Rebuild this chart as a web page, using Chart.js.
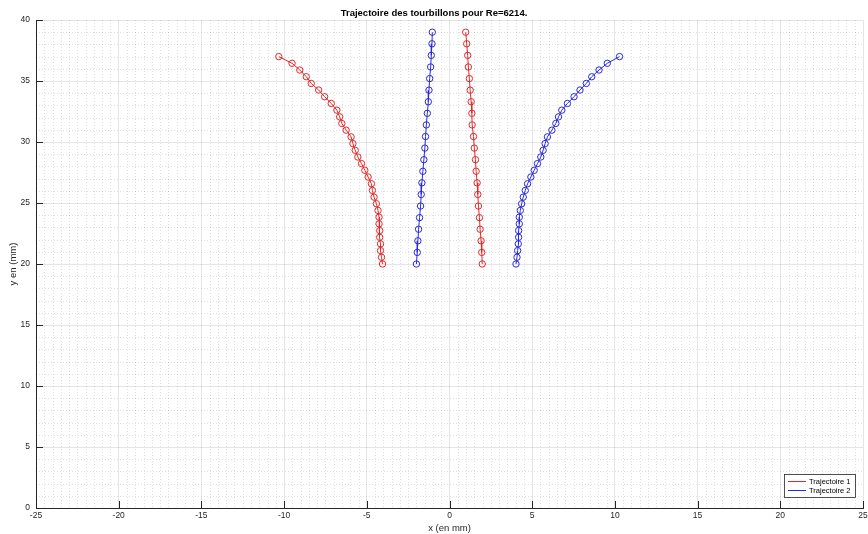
<!DOCTYPE html>
<html>
<head>
<meta charset="utf-8">
<title>Trajectoire des tourbillons</title>
<script src="https://cdn.jsdelivr.net/npm/chart.js@4/dist/chart.umd.min.js"></script>
<style>
  html, body { margin: 0; padding: 0; background: #fff; }
  #chart { display: block; }
</style>
</head>
<body>
<canvas id="chart" width="868" height="534"></canvas>
<script>
// Trajectoire 1 (rouge) : branche gauche courbée + branche droite quasi verticale
const traj1LeftX = [-10.32, -9.52, -9.05, -8.66, -8.36, -7.91, -7.55, -7.15, -6.81, -6.64, -6.51, -6.25, -5.95, -5.84, -5.70, -5.54,
  -5.32, -5.12, -4.92, -4.72, -4.66, -4.56, -4.42, -4.32, -4.26, -4.26, -4.22, -4.22, -4.17, -4.17, -4.11, -4.05];
const traj1LeftY = [37.0, 36.45, 35.9, 35.35, 34.8, 34.26, 33.71, 33.16, 32.61, 32.06, 31.52, 30.97, 30.42, 29.87, 29.32, 28.77,
  28.23, 27.68, 27.13, 26.58, 26.03, 25.48, 24.94, 24.39, 23.84, 23.29, 22.74, 22.19, 21.65, 21.1, 20.55, 20.0];
const traj1RightX = [0.98, 1.04, 1.10, 1.14, 1.20, 1.25, 1.31, 1.35, 1.37, 1.45, 1.50, 1.57, 1.61, 1.67, 1.71, 1.75, 1.81, 1.85, 1.91, 1.95, 1.98];
const traj1RightY = [39.0, 38.05, 37.1, 36.15, 35.2, 34.25, 33.3, 32.35, 31.4, 30.45, 29.5, 28.55, 27.6, 26.65, 25.7, 24.75, 23.8, 22.85, 21.9, 20.95, 20.0];

// Trajectoire 2 (bleu) : branche gauche quasi verticale + branche droite courbée
const traj2LeftX = [-1.04, -1.06, -1.10, -1.14, -1.20, -1.24, -1.28, -1.34, -1.40, -1.45, -1.49, -1.55, -1.61, -1.67, -1.71, -1.75, -1.81, -1.87, -1.91, -1.95, -2.00];
const traj2LeftY = [39.0, 38.05, 37.1, 36.15, 35.2, 34.25, 33.3, 32.35, 31.4, 30.45, 29.5, 28.55, 27.6, 26.65, 25.7, 24.75, 23.8, 22.85, 21.9, 20.95, 20.0];
const traj2RightX = [10.28, 9.54, 9.04, 8.60, 8.27, 7.89, 7.53, 7.13, 6.79, 6.59, 6.43, 6.19, 5.92, 5.78, 5.66, 5.52,
  5.32, 5.12, 4.92, 4.72, 4.58, 4.46, 4.36, 4.28, 4.22, 4.22, 4.18, 4.18, 4.16, 4.12, 4.08, 4.02];
const traj2RightY = [37.0, 36.45, 35.9, 35.35, 34.8, 34.26, 33.71, 33.16, 32.61, 32.06, 31.52, 30.97, 30.42, 29.87, 29.32, 28.77,
  28.23, 27.68, 27.13, 26.58, 26.03, 25.48, 24.94, 24.39, 23.84, 23.29, 22.74, 22.19, 21.65, 21.1, 20.55, 20.0];

const seriesLabels = ['Trajectoire 1', 'Trajectoire 2'];

const RED = '#e02a2a';
const BLUE = '#2a2ad8';
const AXIS = '#262626';
const FONT = '"Liberation Sans", Arial, Helvetica, sans-serif';

function toPoints(xs, ys) {
  return xs.map((x, i) => ({ x: x, y: ys[i] }));
}

function branch(label, color, xs, ys) {
  return {
    label: label,
    data: toPoints(xs, ys),
    showLine: true,
    borderColor: color,
    borderWidth: 1,
    backgroundColor: color,
    pointRadius: 3.2,
    pointBorderWidth: 1,
    pointBorderColor: color,
    pointBackgroundColor: 'rgba(255,255,255,0)',
    pointStyle: 'circle'
  };
}

// Grille mineure pointillée (x tous les 0.5, y tous les 1)
const minorGrid = {
  id: 'minorGrid',
  beforeDatasetsDraw(chart) {
    const { ctx, chartArea: a, scales: { x, y } } = chart;
    ctx.save();
    ctx.strokeStyle = 'rgba(0,0,0,0.12)';
    ctx.lineWidth = 1;
    ctx.setLineDash([1, 2]);
    for (let k = 0; k <= 100; k++) {
      if (k % 10 === 0) continue;
      const px = Math.round(x.getPixelForValue(x.min + k * 0.5)) + 0.5;
      ctx.beginPath(); ctx.moveTo(px, a.top); ctx.lineTo(px, a.bottom); ctx.stroke();
    }
    for (let k = 0; k <= 40; k++) {
      if (k % 5 === 0) continue;
      const py = Math.round(y.getPixelForValue(y.min + k)) + 0.5;
      ctx.beginPath(); ctx.moveTo(a.left, py); ctx.lineTo(a.right, py); ctx.stroke();
    }
    ctx.restore();
  }
};

// Graduations vers l'intérieur, façon MATLAB
const innerTicks = {
  id: 'innerTicks',
  afterDatasetsDraw(chart) {
    const { ctx, chartArea: a, scales: { x, y } } = chart;
    const len = 7;
    ctx.save();
    ctx.strokeStyle = AXIS;
    ctx.lineWidth = 1;
    x.ticks.forEach(t => {
      const px = Math.round(x.getPixelForValue(t.value)) + 0.5;
      ctx.beginPath(); ctx.moveTo(px, a.bottom); ctx.lineTo(px, a.bottom - len); ctx.stroke();
    });
    y.ticks.forEach(t => {
      const py = Math.round(y.getPixelForValue(t.value)) + 0.5;
      ctx.beginPath(); ctx.moveTo(a.left, py); ctx.lineTo(a.left + len, py); ctx.stroke();
    });
    ctx.restore();
  }
};

// Légende encadrée en bas à droite (une entrée par trajectoire)
const boxLegend = {
  id: 'boxLegend',
  afterDraw(chart) {
    const { ctx, chartArea: a } = chart;
    const w = 71, h = 23;
    const left = a.right - 8 - w, top = a.bottom - 11 - h;
    const seen = [];
    chart.data.datasets.forEach(ds => {
      if (!seen.some(s => s.label === ds.label)) seen.push(ds);
    });
    ctx.save();
    ctx.fillStyle = '#fff';
    ctx.fillRect(left, top, w, h);
    ctx.strokeStyle = AXIS;
    ctx.lineWidth = 0.8;
    ctx.strokeRect(left + 0.5, top + 0.5, w, h);
    ctx.font = '7.5px ' + FONT;
    ctx.textBaseline = 'middle';
    seen.forEach((ds, i) => {
      const cy = Math.round(top + 7 + i * 9.4) + 0.5;
      ctx.strokeStyle = ds.borderColor;
      ctx.lineWidth = 1;
      ctx.beginPath(); ctx.moveTo(left + 4, cy); ctx.lineTo(left + 22, cy); ctx.stroke();
      ctx.fillStyle = '#000';
      ctx.fillText(ds.label, left + 25, cy);
    });
    ctx.restore();
  }
};

const datasets = [
  branch(seriesLabels[0], RED, traj1LeftX, traj1LeftY),
  branch(seriesLabels[1], BLUE, traj2LeftX, traj2LeftY),
  branch(seriesLabels[0], RED, traj1RightX, traj1RightY),
  branch(seriesLabels[1], BLUE, traj2RightX, traj2RightY)
];

new Chart(document.getElementById('chart'), {
  type: 'scatter',
  data: { datasets: datasets },
  plugins: [minorGrid, innerTicks, boxLegend],
  options: {
    responsive: false,
    devicePixelRatio: 1,
    animation: false,
    layout: { padding: 0 },
    plugins: {
      legend: { display: false },
      tooltip: { enabled: false },
      title: {
        display: true,
        text: 'Trajectoire des tourbillons pour Re=6214.',
        color: '#000',
        font: { family: FONT, size: 9.5, weight: 'bold' },
        padding: { top: 8, bottom: 0.6 }
      }
    },
    scales: {
      x: {
        type: 'linear',
        min: -25,
        max: 25,
        afterFit(scale) {
          scale.height = 26;
          scale.paddingLeft = 0;
          scale.paddingRight = 0;
        },
        ticks: {
          stepSize: 5,
          color: AXIS,
          padding: 3,
          maxRotation: 0,
          font: { family: FONT, size: 8.5 }
        },
        grid: { color: 'rgba(0,0,0,0.1)', drawTicks: false },
        border: { display: true, color: AXIS, width: 1 },
        title: {
          display: true,
          text: 'x (en mm)',
          color: AXIS,
          font: { family: FONT, size: 9.5 },
          padding: { top: 0, bottom: 0 }
        }
      },
      y: {
        type: 'linear',
        min: 0,
        max: 40,
        afterFit(scale) {
          scale.width = 36;
          scale.paddingTop = 0;
          scale.paddingBottom = 0;
        },
        ticks: {
          stepSize: 5,
          color: AXIS,
          padding: 6,
          font: { family: FONT, size: 8.5 }
        },
        grid: { color: 'rgba(0,0,0,0.1)', drawTicks: false },
        border: { display: true, color: AXIS, width: 1 },
        title: {
          display: true,
          text: 'y en (mm)',
          color: AXIS,
          font: { family: FONT, size: 9.5 },
          padding: { top: 8, bottom: 0 }
        }
      }
    }
  }
});
</script>
</body>
</html>
